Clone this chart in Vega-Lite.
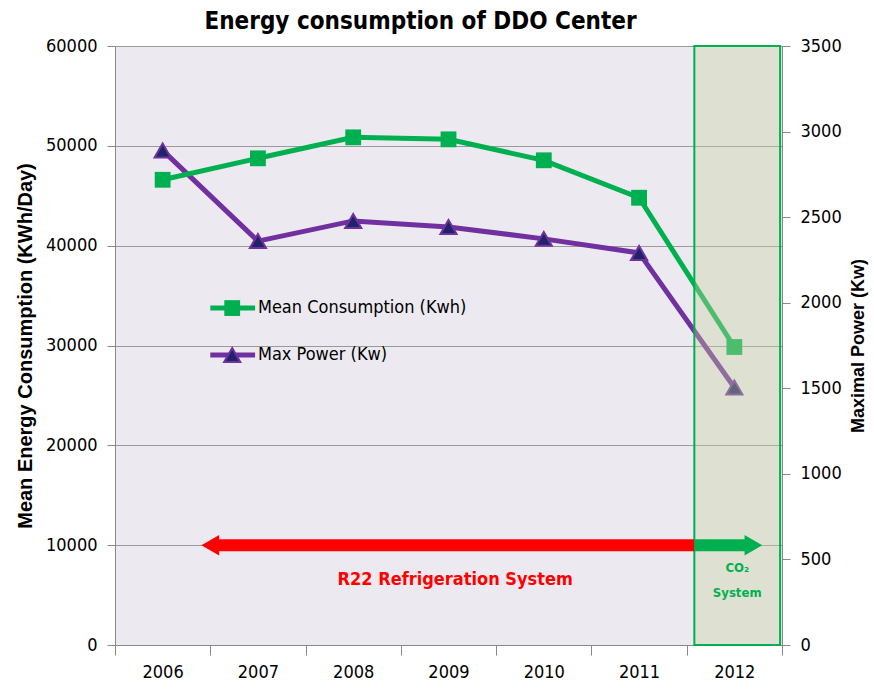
{
  "$schema": "https://vega.github.io/schema/vega-lite/v6.json",
  "autosize": "none",
  "width": 667,
  "height": 599,
  "padding": {"left": 115, "top": 46, "right": 92, "bottom": 45},
  "background": "white",
  "config": {
    "view": {"fill": "#ECEAF0", "stroke": null},
    "font": "DejaVu Sans Condensed, DejaVu Sans, sans-serif"
  },
  "title": {
    "text": "Energy consumption of DDO Center",
    "font": "DejaVu Sans Condensed, DejaVu Sans, sans-serif",
    "fontSize": 24,
    "fontWeight": "bold",
    "color": "black",
    "dx": -28,
    "offset": 3
  },
  "datasets": {
    "mean": [
      {"year": 2006, "value": 46600},
      {"year": 2007, "value": 48750},
      {"year": 2008, "value": 50850},
      {"year": 2009, "value": 50650},
      {"year": 2010, "value": 48550},
      {"year": 2011, "value": 44800},
      {"year": 2012, "value": 29850}
    ],
    "power": [
      {"year": 2006, "value": 2890},
      {"year": 2007, "value": 2360},
      {"year": 2008, "value": 2478},
      {"year": 2009, "value": 2443},
      {"year": 2010, "value": 2373},
      {"year": 2011, "value": 2291},
      {"year": 2012, "value": 1505}
    ],
    "box": [
      {"year": 2011.58, "year2": 2012.48, "value": 0, "value2": 60000}
    ],
    "arrows": [
      {"year": 2006.55, "year2": 2011.58, "value": 10000, "system": "R22"},
      {"year": 2011.58, "year2": 2012.16, "value": 10000, "system": "CO2"}
    ],
    "heads": [
      {"year": 2006.5, "value": 10000, "system": "R22", "dir": "left"},
      {"year": 2012.2, "value": 10000, "system": "CO2", "dir": "right"}
    ],
    "r22text": [
      {"year": 2009.07, "value": 6500, "label": "R22 Refrigeration System"}
    ],
    "co2text": [
      {"year": 2012.03, "value": 7700, "label": "CO₂"},
      {"year": 2012.03, "value": 5200, "label": "System"}
    ],
    "leglineMean": [
      {"year": 2006.5, "year2": 2006.97, "value": 33750}
    ],
    "leglinePower": [
      {"year": 2006.5, "year2": 2006.97, "value": 29050}
    ],
    "legsquare": [
      {"year": 2006.73, "value": 33750}
    ],
    "legtri": [
      {"year": 2006.73, "value": 29050}
    ],
    "legtext": [
      {"year": 2007.0, "value": 33750, "label": "Mean Consumption (Kwh)"},
      {"year": 2007.0, "value": 29050, "label": "Max Power (Kw)"}
    ]
  },
  "encoding": {
    "x": {
      "field": "year",
      "type": "quantitative",
      "scale": {"domain": [2005.5, 2012.5], "nice": false, "zero": false},
      "axis": {
        "title": null,
        "values": [2005.5, 2006.5, 2007.5, 2008.5, 2009.5, 2010.5, 2011.5, 2012.5],
        "labelExpr": "datum.value > 2012 ? '' : format(datum.value + 0.5, 'd')",
        "labelOffset": 47.6,
        "labelFlush": false,
        "labelOverlap": false,
        "labelBound": false,
        "labelFontSize": 18,
        "labelColor": "black",
        "labelPadding": 8,
        "tickSize": 10,
        "tickColor": "#888888",
        "domainColor": "#888888",
        "grid": false
      }
    }
  },
  "layer": [
    {
      "encoding": {
        "y": {
          "field": "value",
          "type": "quantitative",
          "scale": {"domain": [0, 3500], "nice": false},
          "axis": {
            "orient": "right",
            "title": "Maximal Power (Kw)",
            "titleFont": "Liberation Sans, Arial, sans-serif",
            "titleFontSize": 18,
            "titleFontWeight": "bold",
            "titleColor": "black",
            "titleAngle": 270,
            "titleBaseline": "top",
            "titlePadding": 8,
            "values": [0, 500, 1000, 1500, 2000, 2500, 3000, 3500],
            "format": "d",
            "labelFontSize": 18,
            "labelColor": "black",
            "labelPadding": 10,
            "tickSize": 8,
            "tickColor": "#888888",
            "domainColor": "#888888",
            "grid": false
          }
        }
      },
      "layer": [
        {
          "data": {"name": "power"},
          "mark": {"type": "line", "color": "#7030A0", "strokeWidth": 5}
        },
        {
          "data": {"name": "power"},
          "mark": {"type": "point", "shape": "triangle-up", "filled": true, "size": 260, "fill": "#1F2466", "stroke": "#7030A0", "strokeWidth": 2, "opacity": 1}
        }
      ]
    },
    {
      "encoding": {
        "y": {
          "field": "value",
          "type": "quantitative",
          "scale": {"domain": [0, 60000], "nice": false},
          "axis": {
            "orient": "left",
            "title": "Mean Energy Consumption (KWh/Day)",
            "titleFont": "Liberation Sans, Arial, sans-serif",
            "titleFontSize": 20,
            "titleFontWeight": "bold",
            "titleColor": "black",
            "titlePadding": 10,
            "values": [0, 10000, 20000, 30000, 40000, 50000, 60000],
            "format": "d",
            "labelFontSize": 18,
            "labelColor": "black",
            "labelPadding": 10,
            "tickSize": 8,
            "tickColor": "#888888",
            "domainColor": "#888888",
            "grid": true,
            "gridColor": "#9A9A9A",
            "gridWidth": 1
          }
        }
      },
      "layer": [
        {
          "data": {"name": "mean"},
          "mark": {"type": "line", "color": "#00B050", "strokeWidth": 5}
        },
        {
          "data": {"name": "mean"},
          "mark": {"type": "point", "shape": "square", "filled": true, "size": 250, "color": "#00B050", "opacity": 1}
        },
        {
          "data": {"name": "box"},
          "mark": {"type": "rect", "fill": "#C7D39D", "fillOpacity": 0.38, "stroke": "#00B050", "strokeWidth": 2, "strokeOpacity": 1},
          "encoding": {
            "x2": {"field": "year2"},
            "y2": {"field": "value2"}
          }
        },
        {
          "data": {"name": "arrows"},
          "mark": {"type": "rule", "strokeWidth": 12},
          "encoding": {
            "x2": {"field": "year2"},
            "color": {"field": "system", "type": "nominal", "scale": {"domain": ["R22", "CO2"], "range": ["#FF0000", "#00B050"]}, "legend": null}
          }
        },
        {
          "data": {"name": "heads"},
          "mark": {"type": "point", "filled": true, "size": 420, "opacity": 1},
          "encoding": {
            "color": {"field": "system", "type": "nominal", "scale": {"domain": ["R22", "CO2"], "range": ["#FF0000", "#00B050"]}, "legend": null},
            "shape": {"field": "dir", "type": "nominal", "scale": {"domain": ["left", "right"], "range": ["triangle-left", "triangle-right"]}, "legend": null}
          }
        },
        {
          "data": {"name": "r22text"},
          "mark": {"type": "text", "color": "#FF0000", "fontSize": 18, "fontWeight": "bold", "align": "center", "baseline": "middle"},
          "encoding": {"text": {"field": "label"}}
        },
        {
          "data": {"name": "co2text"},
          "mark": {"type": "text", "color": "#00B050", "fontSize": 13, "fontWeight": "bold", "align": "center", "baseline": "middle"},
          "encoding": {"text": {"field": "label"}}
        },
        {
          "data": {"name": "leglineMean"},
          "mark": {"type": "rule", "strokeWidth": 5, "color": "#00B050"},
          "encoding": {"x2": {"field": "year2"}}
        },
        {
          "data": {"name": "leglinePower"},
          "mark": {"type": "rule", "strokeWidth": 5, "color": "#7030A0"},
          "encoding": {"x2": {"field": "year2"}}
        },
        {
          "data": {"name": "legsquare"},
          "mark": {"type": "point", "shape": "square", "filled": true, "size": 250, "color": "#00B050", "opacity": 1}
        },
        {
          "data": {"name": "legtri"},
          "mark": {"type": "point", "shape": "triangle-up", "filled": true, "size": 260, "fill": "#1F2466", "stroke": "#7030A0", "strokeWidth": 2, "opacity": 1}
        },
        {
          "data": {"name": "legtext"},
          "mark": {"type": "text", "color": "black", "fontSize": 18, "align": "left", "baseline": "middle"},
          "encoding": {"text": {"field": "label"}}
        }
      ]
    }
  ],
  "resolve": {"scale": {"y": "independent", "color": "independent"}}
}
